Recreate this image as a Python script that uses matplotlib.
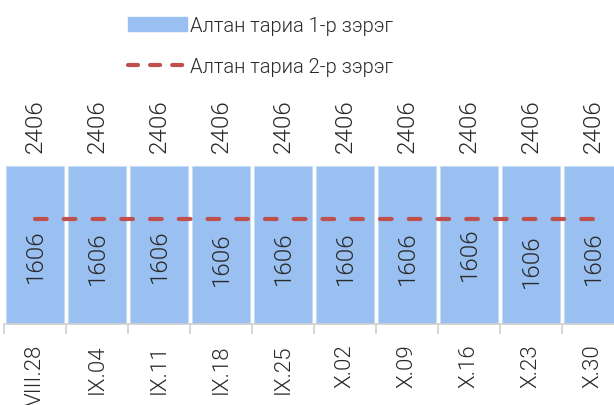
import matplotlib
matplotlib.use("Agg")
import matplotlib.pyplot as plt
from matplotlib import font_manager as fm
from matplotlib.patches import Patch
from matplotlib.lines import Line2D

categories = ["VIII.28", "IX.04", "IX.11", "IX.18", "IX.25", "X.02", "X.09", "X.16", "X.23", "X.30"]
grade1 = [2406] * 10
grade2 = [1606] * 10
label_offsets = [-560, -590, -560, -600, -590, -590, -590, -530, -640, -590]


def find_font():
    files = [f for f in fm.fontManager.ttflist]
    for f in files:
        fn = f.fname.lower().replace(" ", "").replace("_", "-")
        base_name = fn.rsplit("/", 1)[-1]
        if base_name in ("roboto-light.ttf", "roboto-light.otf"):
            return fm.FontProperties(fname=f.fname)
    for f in files:
        if f.name in ("Roboto", "Roboto Light") and f.weight in (300, "light") \
                and f.style == "normal" and "condensed" not in f.fname.lower():
            return fm.FontProperties(fname=f.fname)
    for f in files:
        if f.name == "Roboto" and f.style == "normal" and "condensed" not in f.fname.lower() \
                and "italic" not in f.fname.lower() and f.weight in (400, "normal", "regular"):
            return fm.FontProperties(fname=f.fname)
    return fm.FontProperties(family="DejaVu Sans")


base = find_font()


def fp(size):
    p = base.copy()
    p.set_size(size)
    return p


fig = plt.figure(figsize=(6.14, 4.06), dpi=100)
cat_w = 62 / 614
ax = fig.add_axes([4 / 614, (406 - 325) / 406, cat_w * 10, (325 - 167) / 406])
x = list(range(len(categories)))
blue = "#99c0f0"
red = "#c0504d"
txt = "#2a2a2a"
fs = 16
nfs = 17.5
dash = (0, (2.8, 4.1))
ax.bar(x, grade1, width=0.92, color=blue, edgecolor="#c6dbf6", linewidth=0.8)
ax.plot(x, grade2, color=red, linestyle=dash, linewidth=3, dash_capstyle="round")
ax.set_xlim(-0.5, len(categories) - 0.5)
ax.set_ylim(0, 2406)
for xi, v in zip(x, grade1):
    ax.text(xi, v + 215, str(v), rotation=90, ha="center", va="bottom",
            fontproperties=fp(nfs), color=txt, clip_on=False)
for xi, v, off in zip(x, grade2, label_offsets):
    ax.text(xi, v + off, str(v), rotation=90, ha="center", va="center",
            fontproperties=fp(nfs), color=txt)
ax.set_yticks([])
for s in ["top", "right", "left"]:
    ax.spines[s].set_visible(False)
ax.spines["bottom"].set_color("#d0d0d0")
ax.spines["bottom"].set_linewidth(1.2)
ax.set_xticks([i - 0.5 for i in range(len(categories) + 1)], minor=True)
ax.set_xticks(x)
ax.set_xticklabels(categories, rotation=90, color=txt, va="top", fontproperties=fp(fs))
ax.tick_params(axis="x", which="major", length=0, pad=14)
ax.tick_params(axis="x", which="minor", length=7, color="#d0d0d0", width=1.2)

handles = [Patch(facecolor=blue, edgecolor=blue),
           Line2D([0], [0], color=red, linestyle=(0, (2.4, 2.9)), linewidth=3, dash_capstyle="round")]
leg = fig.legend(handles, ["Алтан тариа 1-р зэрэг", "Алтан тариа 2-р зэрэг"],
                 loc="upper center", bbox_to_anchor=(0.424, 1.003), frameon=False,
                 prop=fp(14.5), handlelength=2.9, handleheight=0.75,
                 labelspacing=1.1, handletextpad=0.15)
for t in leg.get_texts():
    t.set_color(txt)
fig.savefig("out.png", dpi=100)
